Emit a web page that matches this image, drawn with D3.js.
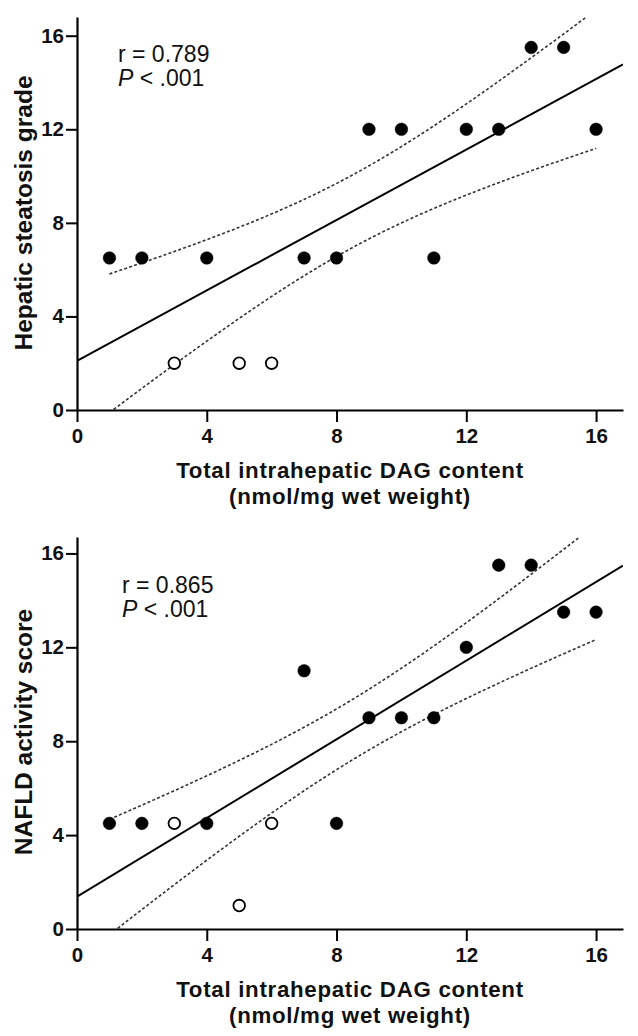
<!DOCTYPE html>
<html>
<head>
<meta charset="utf-8">
<script src="https://cdn.jsdelivr.net/npm/d3@7"></script>
<style>
  html, body { margin: 0; padding: 0; background: #fff; }
  svg { display: block; }
  text { font-family: "Liberation Sans", Arial, sans-serif; }
</style>
</head>
<body>
<script>
// ---------- DATA ----------
const dagContent = [1, 2, 3, 4, 5, 6, 7, 8, 9, 10, 11, 12, 13, 14, 15, 16];
const steatosisGrade = [6.5, 6.5, 2, 6.5, 2, 2, 6.5, 6.5, 12, 12, 6.5, 12, 12, 15.5, 15.5, 12];
const steatosisOpen = [false, false, true, false, true, true, false, false, false, false, false, false, false, false, false, false];
const nafldScore = [4.5, 4.5, 4.5, 4.5, 1, 4.5, 11, 4.5, 9, 9, 9, 12, 15.5, 15.5, 13.5, 13.5];
const nafldOpen = [false, false, true, false, true, true, false, false, false, false, false, false, false, false, false, false];
const tickValues = [0, 4, 8, 12, 16];
const xTitleLines = ["Total intrahepatic DAG content", "(nmol/mg wet weight)"];
const panelTitles = ["Hepatic steatosis grade", "NAFLD activity score"];
const panelR = ["r = 0.789", "r = 0.865"];
const panelP = ".001";

const W = 638, H = 1036;
const svg = d3.select("body").append("svg").attr("width", W).attr("height", H);

const panels = [
  { y: steatosisGrade, open: steatosisOpen, title: panelTitles[0], r: panelR[0],
    top: 17, bottom: 410, yMax: 16.8, titleY: 213, rX: 118, rY: 62 },
  { y: nafldScore, open: nafldOpen, title: panelTitles[1], r: panelR[1],
    top: 537, bottom: 929, yMax: 16.7, titleY: 732, rX: 122, rY: 593 }
];

const left = 77, right = 623;
const tcrit = 2.1448; // t(0.975, df=14)

panels.forEach((p, pi) => {
  const g = svg.append("g");
  const x = d3.scaleLinear().domain([0, 16.83]).range([left, right]);
  const y = d3.scaleLinear().domain([0, p.yMax]).range([p.bottom, p.top]);

  // regression
  const n = dagContent.length;
  const mx = d3.mean(dagContent), my = d3.mean(p.y);
  const sxx = d3.sum(dagContent, v => (v - mx) ** 2);
  const sxy = d3.sum(dagContent, (v, i) => (v - mx) * (p.y[i] - my));
  const b = sxy / sxx, a = my - b * mx;
  const sse = d3.sum(dagContent, (v, i) => (p.y[i] - (a + b * v)) ** 2);
  const s = Math.sqrt(sse / (n - 2));
  const xmin = d3.min(dagContent), xmax = d3.max(dagContent);
  const grid = d3.range(0, 201).map(k => xmin + (xmax - xmin) * k / 200);
  const hw = v => tcrit * s * Math.sqrt(1 / n + (v - mx) ** 2 / sxx);

  const clipId = "clip" + pi;
  svg.append("clipPath").attr("id", clipId).append("rect")
    .attr("x", left).attr("y", p.top).attr("width", right - left).attr("height", p.bottom - p.top);

  const line = d3.line().x(d => x(d[0])).y(d => y(d[1]));
  const plot = g.append("g").attr("clip-path", `url(#${clipId})`);

  plot.append("path")
    .attr("d", line(grid.map(v => [v, a + b * v + hw(v)])))
    .attr("fill", "none").attr("stroke", "#333").attr("stroke-width", 1.6)
    .attr("stroke-dasharray", "3,2.2");
  plot.append("path")
    .attr("d", line(grid.map(v => [v, a + b * v - hw(v)])))
    .attr("fill", "none").attr("stroke", "#333").attr("stroke-width", 1.6)
    .attr("stroke-dasharray", "3,2.2");
  plot.append("path")
    .attr("d", line([[0, a], [16.83, a + b * 16.83]]))
    .attr("fill", "none").attr("stroke", "#000").attr("stroke-width", 2);

  // axes
  const xAxis = d3.axisBottom(x).tickValues(tickValues).tickSize(12).tickPadding(6).tickSizeOuter(0);
  const yAxis = d3.axisLeft(y).tickValues(tickValues).tickSize(11).tickPadding(2).tickSizeOuter(0);
  const gx = g.append("g").attr("transform", `translate(0,${p.bottom})`).call(xAxis);
  const gy = g.append("g").attr("transform", `translate(${left},0)`).call(yAxis);
  [gx, gy].forEach(ax => {
    ax.selectAll("path.domain").attr("stroke", "#000").attr("stroke-width", 2.2);
    ax.selectAll(".tick line").attr("stroke", "#000").attr("stroke-width", 2);
    ax.selectAll(".tick text").attr("fill", "#111").attr("font-size", 20.5)
      .attr("font-weight", "bold").attr("font-family", "'Liberation Sans', Arial, sans-serif");
  });

  // points
  g.append("g").selectAll("circle").data(dagContent).join("circle")
    .attr("cx", d => x(d)).attr("cy", (d, i) => y(p.y[i])).attr("r", (d, i) => p.open[i] ? 5.8 : 6.3)
    .attr("fill", (d, i) => p.open[i] ? "#fff" : "#000")
    .attr("stroke", "#000").attr("stroke-width", (d, i) => p.open[i] ? 1.8 : 0.5);

  // annotation
  const ann = g.append("text").attr("font-size", 23).attr("fill", "#111");
  ann.append("tspan").attr("x", p.rX).attr("y", p.rY).text(p.r);
  ann.append("tspan").attr("x", p.rX).attr("y", p.rY + 24).attr("font-style", "italic").text("P");
  ann.append("tspan").text(" < " + panelP);

  // x-axis title
  const xt = g.append("text").attr("text-anchor", "middle").attr("font-size", 22.3)
    .attr("letter-spacing", 0.7).attr("font-weight", "bold").attr("fill", "#111");
  xTitleLines.forEach((t, li) => {
    xt.append("tspan").attr("x", 350).attr("y", p.bottom + 68 + li * 25.5).text(t);
  });
  g.append("text").attr("transform", `translate(32,${p.titleY}) rotate(-90)`)
    .attr("text-anchor", "middle").attr("font-size", 24.5).attr("font-weight", "bold").attr("fill", "#111").text(p.title);
});
</script>
</body>
</html>
